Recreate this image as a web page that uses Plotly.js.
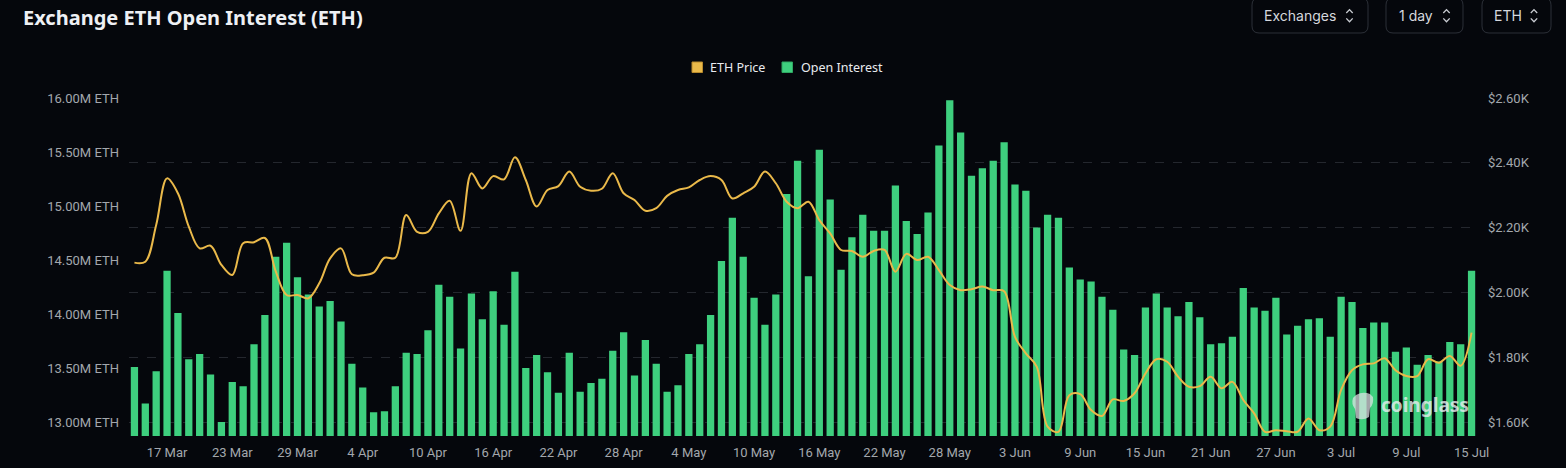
<!DOCTYPE html>
<html>
<head>
<meta charset="utf-8">
<script src="https://cdn.plot.ly/plotly-3.0.1.min.js"></script>
<style>
html,body{margin:0;padding:0;background:#05070c;}
#chart{width:1566px;height:468px;}
</style>
</head>
<body>
<div id="chart"></div>
<script>
// ---- data ----
const dates = [
"14 Mar","15 Mar","16 Mar","17 Mar","18 Mar","19 Mar","20 Mar","21 Mar","22 Mar","23 Mar","24 Mar","25 Mar","26 Mar","27 Mar","28 Mar","29 Mar","30 Mar","31 Mar",
"1 Apr","2 Apr","3 Apr","4 Apr","5 Apr","6 Apr","7 Apr","8 Apr","9 Apr","10 Apr","11 Apr","12 Apr","13 Apr","14 Apr","15 Apr","16 Apr","17 Apr","18 Apr","19 Apr","20 Apr","21 Apr","22 Apr","23 Apr","24 Apr","25 Apr","26 Apr","27 Apr","28 Apr","29 Apr","30 Apr",
"1 May","2 May","3 May","4 May","5 May","6 May","7 May","8 May","9 May","10 May","11 May","12 May","13 May","14 May","15 May","16 May","17 May","18 May","19 May","20 May","21 May","22 May","23 May","24 May","25 May","26 May","27 May","28 May","29 May","30 May","31 May",
"1 Jun","2 Jun","3 Jun","4 Jun","5 Jun","6 Jun","7 Jun","8 Jun","9 Jun","10 Jun","11 Jun","12 Jun","13 Jun","14 Jun","15 Jun","16 Jun","17 Jun","18 Jun","19 Jun","20 Jun","21 Jun","22 Jun","23 Jun","24 Jun","25 Jun","26 Jun","27 Jun","28 Jun","29 Jun","30 Jun",
"1 Jul","2 Jul","3 Jul","4 Jul","5 Jul","6 Jul","7 Jul","8 Jul","9 Jul","10 Jul","11 Jul","12 Jul","13 Jul","14 Jul","15 Jul"
];

// Open interest, millions of ETH
const openInterest = [
13.51,13.17,13.47,14.40,14.01,13.58,13.63,13.44,13.00,13.37,13.33,13.72,13.99,14.53,14.66,14.34,14.18,14.07,14.12,13.93,13.54,13.32,
13.09,13.10,13.33,13.64,13.63,13.85,14.27,14.16,13.68,14.19,13.95,14.21,13.90,14.39,13.50,13.62,13.46,13.27,13.64,13.28,13.36,13.40,
13.66,13.83,13.43,13.76,13.54,13.28,13.34,13.63,13.72,13.99,14.49,14.89,14.53,14.15,13.90,14.18,15.11,15.42,14.35,15.52,15.06,14.41,
14.71,14.92,14.77,14.77,15.19,14.86,14.74,14.94,15.56,15.98,15.68,15.28,15.35,15.42,15.59,15.20,15.14,14.80,14.92,14.89,14.43,14.32,
14.30,14.16,14.04,13.67,13.62,14.06,14.19,14.06,13.98,14.11,13.97,13.72,13.73,13.79,14.24,14.06,14.03,14.15,13.81,13.89,13.95,13.96,
13.79,14.16,14.11,13.87,13.92,13.92,13.65,13.69,13.53,13.62,13.56,13.74,13.72,14.40
];

// ETH price, USD
const ethPrice = [
2092,2095,2208,2352,2306,2203,2136,2144,2085,2054,2152,2155,2168,2065,1992,1992,1982,2028,2105,2136,2056,2053,
2061,2107,2107,2239,2187,2187,2244,2283,2190,2368,2321,2359,2349,2417,2347,2265,2316,2328,2373,2326,2314,2320,
2368,2306,2285,2252,2260,2298,2316,2324,2347,2359,2347,2290,2306,2326,2373,2337,2280,2260,2280,2223,2182,2131,
2128,2110,2128,2131,2064,2119,2100,2110,2069,2023,2007,2010,2018,2007,2004,1863,1812,1771,1586,1570,1683,1686,
1637,1619,1670,1665,1689,1750,1794,1786,1740,1709,1711,1740,1704,1724,1668,1627,1570,1575,1572,1570,1611,1575,
1586,1699,1760,1778,1781,1797,1760,1742,1742,1794,1783,1804,1774,1876
];

const xTickVals = ["17 Mar","23 Mar","29 Mar","4 Apr","10 Apr","16 Apr","22 Apr","28 Apr","4 May","10 May","16 May","22 May","28 May","3 Jun","9 Jun","15 Jun","21 Jun","27 Jun","3 Jul","9 Jul","15 Jul"];
const oiTickVals = [13.0,13.5,14.0,14.5,15.0,15.5,16.0];
const oiTickText = ["13.00M ETH","13.50M ETH","14.00M ETH","14.50M ETH","15.00M ETH","15.50M ETH","16.00M ETH"];
const priceTickVals = [1600,1800,2000,2200,2400,2600];
const priceTickText = ["$1.60K","$1.80K","$2.00K","$2.20K","$2.40K","$2.60K"];

const seriesNames = ["ETH Price","Open Interest"];
const titleText = "Exchange ETH Open Interest (ETH)";
const controls = ["Exchanges","1 day","ETH"];

// ---- layout helpers (pixel -> paper) ----
const W = 1566, H = 468;
const ML = 129, MR = 89, MT = 98, MB = 32;
const PW = W - ML - MR, PH = H - MT - MB;
const px = x => (x - ML) / PW;
const py = y => (H - MB - y) / PH;

const GREEN = "#3ecf7e";
const GOLD = "#eab94a";
const TICKC = "#a3a7ad";

const traces = [
  {
    type: "bar", x: dates, y: openInterest, name: seriesNames[1],
    marker: {color: GREEN, line: {width: 0}},
    yaxis: "y", showlegend: false, hoverinfo: "x+y"
  },
  {
    type: "scatter", mode: "lines", x: dates, y: ethPrice, name: seriesNames[0],
    line: {color: GOLD, width: 2, shape: "spline", smoothing: 1.0},
    yaxis: "y2", showlegend: false, hoverinfo: "x+y"
  }
];

function roundRect(x0, y0, x1, y1, r) {
  const P = (x, y) => px(x).toFixed(5) + "," + py(y).toFixed(5);
  return "M" + P(x0 + r, y0) + " L" + P(x1 - r, y0) + " Q" + P(x1, y0) + " " + P(x1, y0 + r) +
    " L" + P(x1, y1 - r) + " Q" + P(x1, y1) + " " + P(x1 - r, y1) +
    " L" + P(x0 + r, y1) + " Q" + P(x0, y1) + " " + P(x0, y1 - r) +
    " L" + P(x0, y0 + r) + " Q" + P(x0, y0) + " " + P(x0 + r, y0) + " Z";
}
function chevrons(cx) {
  const P = (x, y) => px(x).toFixed(5) + "," + py(y).toFixed(5);
  return [
    "M" + P(cx - 3.2, 13) + " L" + P(cx, 9.6) + " L" + P(cx + 3.2, 13),
    "M" + P(cx - 3.2, 18.4) + " L" + P(cx, 21.8) + " L" + P(cx + 3.2, 18.4)
  ];
}

const shapes = [];
const annotations = [];

// title
annotations.push({
  xref: "paper", yref: "paper", x: px(21), y: py(18), xanchor: "left", yanchor: "middle",
  text: "<b>" + titleText + "</b>", showarrow: false,
  font: {family: "Noto Sans, Open Sans, sans-serif", size: 20, color: "#eef0f4"}
});

// controls (buttons)
const btns = [
  {x0: 1252, x1: 1368, tx: 1262, cx: 1349.5, label: controls[0]},
  {x0: 1386, x1: 1463, tx: 1396.5, cx: 1446.5, label: controls[1]},
  {x0: 1482, x1: 1551, tx: 1492, cx: 1534, label: controls[2]}
];
btns.forEach(b => {
  shapes.push({type: "path", xref: "paper", yref: "paper", path: roundRect(b.x0, -2, b.x1, 33, 7),
    line: {color: "#2c3038", width: 1}, fillcolor: "rgba(0,0,0,0)", layer: "above"});
  chevrons(b.cx).forEach(p => shapes.push({type: "path", xref: "paper", yref: "paper", path: p,
    line: {color: "#c9ccd2", width: 1.3}, layer: "above"}));
  annotations.push({xref: "paper", yref: "paper", x: px(b.tx), y: py(15.5), xanchor: "left", yanchor: "middle",
    text: b.label, showarrow: false, font: {family: "Inter, Roboto, sans-serif", size: 14, color: "#d5d8de"}});
});

// legend (manual)
const legendItems = [
  {sx: 692, tx: 708, color: GOLD, border: "#b98a2c", label: seriesNames[0]},
  {sx: 782, tx: 798.5, color: GREEN, border: "#2fa862", label: seriesNames[1]}
];
legendItems.forEach(it => {
  shapes.push({type: "rect", xref: "paper", yref: "paper", x0: px(it.sx), x1: px(it.sx + 10.5),
    y0: py(72.5), y1: py(62), fillcolor: it.color, line: {color: it.border, width: 1}, layer: "above"});
  annotations.push({xref: "paper", yref: "paper", x: px(it.tx), y: py(67), xanchor: "left", yanchor: "middle",
    text: it.label, showarrow: false, font: {family: "Noto Sans, sans-serif", size: 12.5, color: "#e9ebef"}});
});

// watermark
annotations.push({xref: "paper", yref: "paper", x: px(1379), y: py(405), xanchor: "left", yanchor: "middle",
  text: "<b>coinglass</b>", showarrow: false,
  font: {family: "Noto Sans, sans-serif", size: 19, color: "rgba(235,238,242,0.8)"}});
shapes.push({type: "path", xref: "paper", yref: "paper",
  path: (function(){
    const P = (x, y) => px(x).toFixed(5) + "," + py(y).toFixed(5);
    return "M" + P(1356, 395) + " Q" + P(1363, 391) + " " + P(1370, 394) + " L" + P(1373, 397) +
      " Q" + P(1374, 404) + " " + P(1370, 408) + " L" + P(1369, 417) + " Q" + P(1363, 421) + " " + P(1356, 418) +
      " L" + P(1355, 409) + " Q" + P(1351, 404) + " " + P(1353, 398) + " Z";
  })(),
  fillcolor: "rgba(225,228,232,0.72)", line: {width: 0}, layer: "above"});

const layout = {
  width: W, height: H,
  margin: {l: ML, r: MR, t: MT, b: MB, pad: 0},
  paper_bgcolor: "#05070c",
  plot_bgcolor: "#05070c",
  showlegend: false,
  bargap: 0.33,
  font: {family: "Roboto, sans-serif", color: TICKC, size: 13},
  xaxis: {
    type: "category",
    tickmode: "array", tickvals: xTickVals, ticktext: xTickVals,
    showgrid: false, zeroline: false, showline: false,
    ticks: "", ticklabelstandoff: 7,
    tickfont: {family: "Roboto, sans-serif", size: 13, color: TICKC},
    range: [-0.5, dates.length - 0.5], fixedrange: true
  },
  yaxis: {
    range: [12.87, 16.0],
    tickmode: "array", tickvals: oiTickVals, ticktext: oiTickText,
    showgrid: false, zeroline: false, showline: false, ticks: "",
    ticklabelstandoff: 9,
    tickfont: {family: "Roboto, sans-serif", size: 13, color: TICKC}
  },
  yaxis2: {
    overlaying: "y", side: "right",
    range: [1557, 2600],
    tickmode: "array", tickvals: priceTickVals, ticktext: priceTickText,
    showgrid: true, gridcolor: "#24272e", griddash: "dash", gridwidth: 1,
    zeroline: false, showline: false, ticks: "",
    ticklabelstandoff: 10,
    tickfont: {family: "Roboto, sans-serif", size: 13, color: TICKC}
  },
  shapes: shapes,
  annotations: annotations
};

Plotly.newPlot("chart", traces, layout, {displayModeBar: false, staticPlot: true});
</script>
</body>
</html>
